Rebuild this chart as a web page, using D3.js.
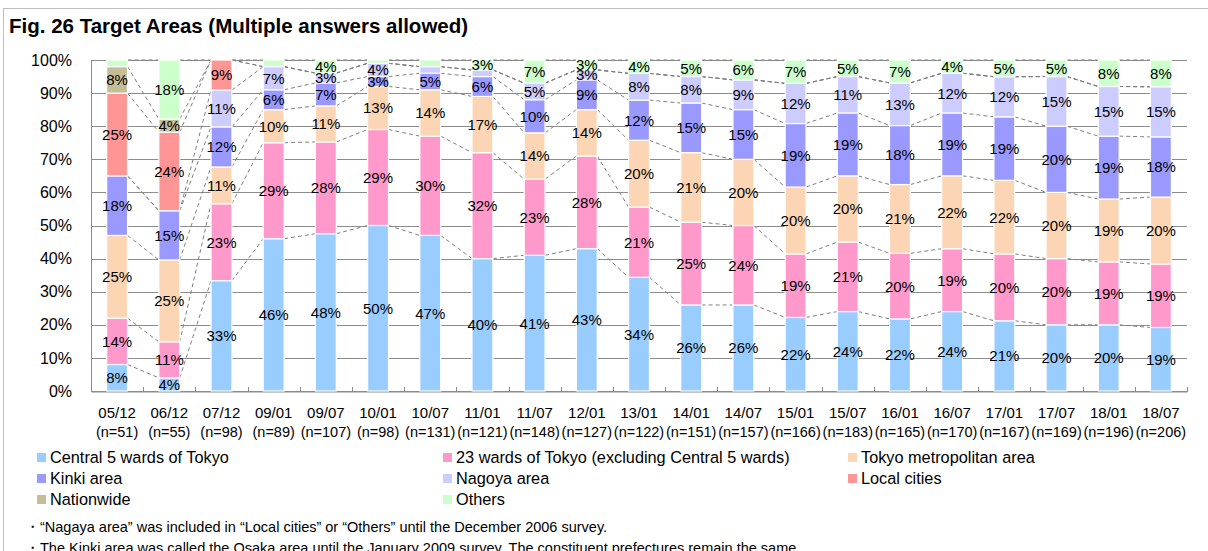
<!DOCTYPE html>
<html><head><meta charset="utf-8">
<script src="https://cdn.jsdelivr.net/npm/d3@7"></script>
<style>
body{margin:0;background:#fff}
svg{display:block}
text{font-family:"Liberation Sans",Arial,sans-serif;fill:#000}
</style>
</head><body>
<svg id="c" width="1208" height="551"></svg>
<script>
// ---------- data ----------
const categories = ["05/12","06/12","07/12","09/01","09/07","10/01","10/07","11/01","11/07","12/01","13/01","14/01","14/07","15/01","15/07","16/01","16/07","17/01","17/07","18/01","18/07"];
const sampleSizes = [51,55,98,89,107,98,131,121,148,127,122,151,157,166,183,165,170,167,169,196,206];
const seriesNames = ["Central 5 wards of Tokyo","23 wards of Tokyo (excluding Central 5 wards)","Tokyo metropolitan area","Kinki area","Nagoya area","Local cities","Nationwide","Others"];
const central5    = [8,4,33,46,48,50,47,40,41,43,34,26,26,22,24,22,24,21,20,20,19];
const wards23     = [14,11,23,29,28,29,30,32,23,28,21,25,24,19,21,20,19,20,20,19,19];
const tokyoMetro  = [25,25,11,10,11,13,14,17,14,14,20,21,20,20,20,21,22,22,20,19,20];
const kinki       = [18,15,12,6,7,3,5,6,10,9,12,15,15,19,19,18,19,19,20,19,18];
const nagoya      = [0,0,11,7,3,4,2,2,5,3,8,8,9,12,11,13,12,12,15,15,15];
const localCities = [25,24,9,0,0,0,0,0,0,0,0,0,0,0,0,0,0,0,0,0,0];
const nationwide  = [8,4,0,0,0,0,0,0,0,0,0,0,0,0,0,0,0,0,0,0,0];
const others      = [2,18,0,2,4,1,2,3,7,3,4,5,6,7,5,7,4,5,5,8,8];
const yTicks = [0,0.1,0.2,0.3,0.4,0.5,0.6,0.7,0.8,0.9,1];
const notes = [
  "\u30FB\u201CNagaya area\u201D was included in \u201CLocal cities\u201D or \u201COthers\u201D until the December 2006 survey.",
  "\u30FBThe Kinki area was called the Osaka area until the January 2009 survey. The constituent prefectures remain the same."
];
const colors = ["#99CCFF","#FF99CC","#FCD5B4","#9999FF","#CCCCFF","#FF9595","#C4BD97","#CCFFCC"];

// ---------- build ----------
const allSeries = [central5,wards23,tokyoMetro,kinki,nagoya,localCities,nationwide,others];
const keys = seriesNames;
const rows = categories.map((c,i)=>{const r={cat:c}; keys.forEach((k,j)=>r[k]=allSeries[j][i]); return r;});
const stack = d3.stack().keys(keys).offset(d3.stackOffsetExpand)(rows);

const svg = d3.select("#c");
const L=91,R=1187,T=60,B=391;
const x = d3.scaleBand().domain(categories).range([L,R]).padding(0);
const bw = x.bandwidth()*0.4;
const bx = c => x(c)+x.bandwidth()/2-bw/2;
const y = d3.scaleLinear().domain([0,1]).range([B,T]);

// outer frame
svg.append("rect").attr("x",3.5).attr("y",8.5).attr("width",1220).attr("height",560)
  .attr("fill","none").attr("stroke","#BFBFBF").attr("stroke-width",1);

// title
svg.append("text").attr("x",9).attr("y",33).attr("font-size","20.5px").attr("font-weight","bold")
  .text("Fig. 26 Target Areas (Multiple answers allowed)");

// gridlines
svg.append("g").selectAll("line").data(yTicks).join("line")
  .attr("x1",L).attr("x2",R).attr("y1",d=>Math.round(y(d))+0.5).attr("y2",d=>Math.round(y(d))+0.5)
  .attr("stroke","#8C8C8C").attr("stroke-width",1);

// y axis
const ya = svg.append("g").attr("transform",`translate(${L},0)`)
  .call(d3.axisLeft(y).tickValues(yTicks).tickFormat(d3.format(".0%")).tickSize(0).tickPadding(19));
ya.select(".domain").attr("stroke","#8C8C8C");
ya.selectAll("text").attr("font-size","16px").attr("font-family","Liberation Sans, Arial, sans-serif");

// x axis
const xa = svg.append("g").attr("transform",`translate(0,${B+0.5})`)
  .call(d3.axisBottom(x).tickSize(0).tickPadding(14).tickFormat(""));
xa.select(".domain").attr("stroke","#8C8C8C");
xa.selectAll(".tick text").each(function(d,i){
  const t=d3.select(this).attr("font-size","14.5px").attr("font-family","Liberation Sans, Arial, sans-serif").attr("dy",null).attr("y",26);
  t.append("tspan").attr("x",0).attr("y",26).attr("font-size","15px").text(d);
  t.append("tspan").attr("x",0).attr("y",45).text(`(n=${sampleSizes[i]})`);
});
// category boundary ticks
svg.append("g").selectAll("line").data(d3.range(categories.length+1)).join("line")
  .attr("x1",i=>Math.round(L+i*x.step())+0.5).attr("x2",i=>Math.round(L+i*x.step())+0.5)
  .attr("y1",B-4).attr("y2",B+1).attr("stroke","#8C8C8C");

// series lines
const sl = svg.append("g").attr("stroke","#808080").attr("stroke-width",1).attr("stroke-dasharray","4,3").attr("fill","none");
stack.forEach(s=>{
  for(let i=0;i<categories.length-1;i++){
    sl.append("line")
      .attr("x1",bx(categories[i])+bw).attr("y1",y(s[i][1]))
      .attr("x2",bx(categories[i+1])).attr("y2",y(s[i+1][1]));
  }
});

// bars
const gBars = svg.append("g");
stack.forEach((s,j)=>{
  gBars.append("g").attr("fill",colors[j]).selectAll("rect").data(s).join("rect")
    .attr("x",d=>bx(d.data.cat)).attr("width",bw)
    .attr("y",d=>y(d[1])).attr("height",d=>Math.max(0,y(d[0])-y(d[1])))
    .attr("stroke","#FFFFFF").attr("stroke-width",1.2);
});

// data labels
stack.forEach((s,j)=>{
  svg.append("g").selectAll("text").data(s.filter(d=>d.data[keys[j]]>=3)).join("text")
    .attr("x",d=>x(d.data.cat)+x.bandwidth()/2).attr("y",d=>y((d[0]+d[1])/2))
    .attr("dy","0.36em").attr("text-anchor","middle").attr("font-size","15px")
    .text(d=>d.data[keys[j]]+"%");
});

// legend
const legX = [37,443,848];
const leg = svg.append("g");
keys.forEach((k,j)=>{
  const col=j%3,row=Math.floor(j/3);
  const cy = 457 + row*21;
  leg.append("rect").attr("x",legX[col]).attr("y",cy-4).attr("width",9).attr("height",9).attr("fill",colors[j]);
  leg.append("text").attr("x",legX[col]+13).attr("y",cy+6).attr("font-size","16.3px").text(k);
});

// notes
svg.append("g").selectAll("text").data(notes).join("text")
  .attr("x",25).attr("y",(d,i)=>532+i*21).attr("font-size","14.5px").text(d=>d);
</script>
</body></html>
